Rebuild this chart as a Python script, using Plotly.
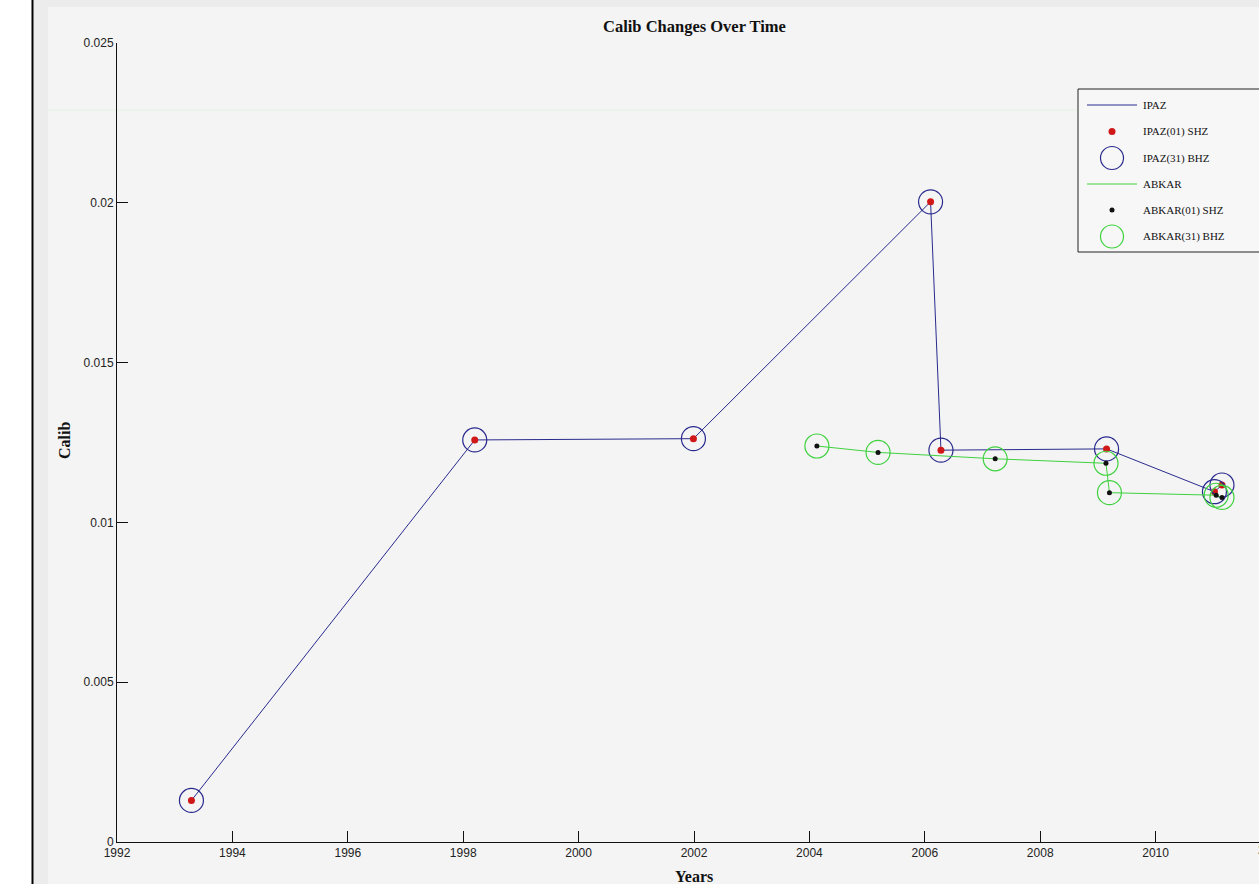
import plotly.graph_objects as go

# Calibration history of the IPAZ station (decimal years, calib value)
ipaz_years = [1993.29, 1998.20, 2001.99, 2006.10, 2006.28, 2009.15, 2011.02, 2011.15]
ipaz_calib = [0.00130, 0.01258, 0.01262, 0.02003, 0.01226, 0.01230, 0.01096, 0.01117]

# Calibration history of the ABKAR station
abkar_years = [2004.13, 2005.19, 2007.22, 2009.14, 2009.20, 2011.05, 2011.15]
abkar_calib = [0.01239, 0.01219, 0.01199, 0.01185, 0.01093, 0.01085, 0.01078]

x_ticks = [1992, 1994, 1996, 1998, 2000, 2002, 2004, 2006, 2008, 2010]
y_ticks = [0, 0.005, 0.01, 0.015, 0.02, 0.025]
y_tick_text = ["0", "0.005", "0.01", "0.015", "0.02", "0.025"]
legend_labels = ["IPAZ", "IPAZ(01) SHZ", "IPAZ(31) BHZ",
                 "ABKAR", "ABKAR(01) SHZ", "ABKAR(31) BHZ"]

# Figure geometry (pixels)
W, H = 1259, 884
ML, MR, MT, MB = 117, 0, 43, 42
PW, PH = W - ML - MR, H - MT - MB
PX_PER_YEAR = 57.7
x_range = [1992, 1992 + PW / PX_PER_YEAR]


def px(x):
    return (x - ML) / PW


def py(y):
    return (H - MB - y) / PH


BLUE = "#2a2a8e"
GREEN = "#3fd23f"
RED = "#d01818"
BG = "#f4f4f4"
SERIF = "Liberation Serif, Times New Roman, serif"
SANS = "Liberation Sans, Arial, sans-serif"

fig = go.Figure()

# IPAZ: connecting line, SHZ dots, BHZ circles
fig.add_trace(go.Scatter(x=ipaz_years, y=ipaz_calib, mode="lines",
                         line=dict(color=BLUE, width=1), name=legend_labels[0]))
fig.add_trace(go.Scatter(x=ipaz_years, y=ipaz_calib, mode="markers",
                         marker=dict(color=RED, size=7, symbol="circle"),
                         name=legend_labels[1]))
fig.add_trace(go.Scatter(x=ipaz_years, y=ipaz_calib, mode="markers",
                         marker=dict(symbol="circle-open", size=24,
                                     color=BLUE, line=dict(width=1.2)),
                         name=legend_labels[2]))

# ABKAR: connecting line, SHZ dots, BHZ circles
fig.add_trace(go.Scatter(x=abkar_years, y=abkar_calib, mode="lines",
                         line=dict(color=GREEN, width=1), name=legend_labels[3]))
fig.add_trace(go.Scatter(x=abkar_years, y=abkar_calib, mode="markers",
                         marker=dict(color="#111111", size=5, symbol="circle"),
                         name=legend_labels[4]))
fig.add_trace(go.Scatter(x=abkar_years, y=abkar_calib, mode="markers",
                         marker=dict(symbol="circle-open", size=24,
                                     color=GREEN, line=dict(width=1.2)),
                         name=legend_labels[5]))

shapes = []
# window frame on the left and top
shapes.append(dict(type="rect", xref="paper", yref="paper", layer="below",
                   x0=px(0), x1=px(32), y0=py(H), y1=py(0),
                   fillcolor="white", line=dict(width=0)))
shapes.append(dict(type="rect", xref="paper", yref="paper", layer="below",
                   x0=px(34), x1=px(48), y0=py(H), y1=py(0),
                   fillcolor="#ececec", line=dict(width=0)))
shapes.append(dict(type="rect", xref="paper", yref="paper", layer="below",
                   x0=px(34), x1=px(W + 5), y0=py(7), y1=py(0),
                   fillcolor="#ececec", line=dict(width=0)))
shapes.append(dict(type="line", xref="paper", yref="paper", layer="above",
                   x0=px(32.5), x1=px(32.5), y0=py(H), y1=py(0),
                   line=dict(color="black", width=2)))
shapes.append(dict(type="line", xref="paper", yref="paper", layer="below",
                   x0=px(48), x1=px(W + 5), y0=py(110), y1=py(110),
                   line=dict(color="#e2f4e2", width=1)))

# legend box
LEG_L, LEG_T, LEG_B = 1078, 89, 252
shapes.append(dict(type="rect", xref="paper", yref="paper", layer="above",
                   x0=px(LEG_L), x1=px(W + 3), y0=py(LEG_B), y1=py(LEG_T),
                   fillcolor="#f7f7f7", line=dict(color="#222222", width=1)))
rows = [105, 131.5, 158, 184, 210, 236.5]
sx0, sx1, sxc = 1087, 1137, 1112

shapes.append(dict(type="line", xref="paper", yref="paper", layer="above",
                   x0=px(sx0), x1=px(sx1), y0=py(rows[0]), y1=py(rows[0]),
                   line=dict(color=BLUE, width=1)))
shapes.append(dict(type="line", xref="paper", yref="paper", layer="above",
                   x0=px(sx0), x1=px(sx1), y0=py(rows[3]), y1=py(rows[3]),
                   line=dict(color=GREEN, width=1)))


def dot(row, d, fill, outline, lw=0):
    return dict(type="circle", xref="paper", yref="paper", layer="above",
                xsizemode="pixel", ysizemode="pixel",
                xanchor=px(sxc), yanchor=py(row),
                x0=-d / 2, x1=d / 2, y0=-d / 2, y1=d / 2,
                fillcolor=fill, line=dict(color=outline, width=lw))


shapes.append(dot(rows[1], 7, RED, RED))
shapes.append(dot(rows[2], 23, "rgba(0,0,0,0)", BLUE, 1.2))
shapes.append(dot(rows[4], 5, "#111111", "#111111"))
shapes.append(dot(rows[5], 23, "rgba(0,0,0,0)", GREEN, 1.2))

annotations = []
for label, row in zip(legend_labels, rows):
    annotations.append(dict(text=label, xref="paper", yref="paper",
                            x=px(1141), y=py(row), xanchor="left",
                            yanchor="middle", showarrow=False,
                            font=dict(family=SERIF, size=11, color="#111111")))

# title and axis titles
annotations.append(dict(text="<b>Calib Changes Over Time</b>", xref="paper",
                        yref="paper", x=px(694), y=py(27), xanchor="center",
                        yanchor="middle", showarrow=False,
                        font=dict(family=SERIF, size=16.5, color="#111111")))
annotations.append(dict(text="<b>Years</b>", xref="paper", yref="paper",
                        x=px(694), y=py(876), xanchor="center",
                        yanchor="middle", showarrow=False,
                        font=dict(family=SERIF, size=16, color="#111111")))
annotations.append(dict(text="<b>Calib</b>", xref="paper", yref="paper",
                        x=px(64), y=py(441), xanchor="center",
                        yanchor="middle", showarrow=False, textangle=-90,
                        font=dict(family=SERIF, size=16, color="#111111")))
# 2012 tick label, beyond the visible right edge
annotations.append(dict(text="2012", xref="paper", yref="paper",
                        x=px(ML + (2012 - 1992) * PX_PER_YEAR), y=py(850),
                        xanchor="center", yanchor="middle", showarrow=False,
                        font=dict(family=SANS, size=12, color="#222222")))

axis_common = dict(showgrid=False, zeroline=False, showline=True,
                   linecolor="#111111", linewidth=1, ticks="inside",
                   ticklen=11, tickwidth=1, tickcolor="#111111",
                   tickfont=dict(family=SANS, size=12, color="#222222"),
                   mirror=False)

fig.update_layout(
    width=W, height=H, autosize=False,
    margin=dict(l=ML, r=MR, t=MT, b=MB, pad=0),
    paper_bgcolor=BG, plot_bgcolor=BG,
    showlegend=False,
    xaxis=dict(range=x_range, tickvals=x_ticks, **axis_common),
    yaxis=dict(range=[0, 0.025], tickvals=y_ticks, ticktext=y_tick_text,
               **axis_common),
    shapes=shapes, annotations=annotations,
)

fig.write_html("out.html")
